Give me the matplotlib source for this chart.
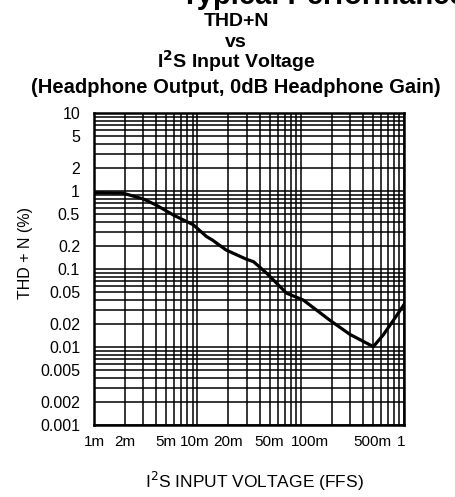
import matplotlib.pyplot as plt
import numpy as np
from matplotlib.ticker import FixedLocator, NullFormatter, LogLocator
from matplotlib.transforms import ScaledTranslation

plt.rcParams['font.family'] = ['Liberation Sans', 'DejaVu Sans']

# curve (input in FFS, THD+N in %)
input_ffs = [0.001, 0.0019, 0.003, 0.004, 0.0059, 0.0091, 0.0123, 0.014, 0.019,
             0.030, 0.035, 0.047, 0.073, 0.106, 0.192, 0.300, 0.505, 0.630, 0.790, 1.0]
thd_pct = [0.95, 0.94, 0.79, 0.66, 0.49, 0.37, 0.26, 0.235, 0.175,
           0.133, 0.124, 0.088, 0.049, 0.040, 0.022, 0.0145, 0.0101, 0.0143, 0.022, 0.035]

x_ticks = [0.001, 0.002, 0.005, 0.01, 0.02, 0.05, 0.1, 0.5, 1]
x_labels = ['1m', '2m', '5m', '10m', '20m', '50m', '100m', '500m', '1']
y_ticks = [10, 5, 2, 1, 0.5, 0.2, 0.1, 0.05, 0.02, 0.01, 0.005, 0.002, 0.001]
y_labels = ['10', '5', '2', '1', '0.5', '0.2', '0.1', '0.05', '0.02', '0.01', '0.005', '0.002', '0.001']

W, H = 456, 497
fig = plt.figure(figsize=(W / 100, H / 100), dpi=100)
ax = fig.add_axes([94 / W, 1 - 425 / H, 310 / W, 312 / H])

ax.set_xscale('log')
ax.set_yscale('log')
ax.set_xlim(0.001, 1)
ax.set_ylim(0.001, 10)

ax.xaxis.set_major_locator(FixedLocator(x_ticks))
ax.set_xticklabels(x_labels)
ax.yaxis.set_major_locator(FixedLocator(y_ticks))
ax.set_yticklabels(y_labels)
ax.xaxis.set_minor_locator(LogLocator(base=10, subs=np.arange(1, 10)))
ax.yaxis.set_minor_locator(LogLocator(base=10, subs=np.arange(1, 10)))
ax.xaxis.set_minor_formatter(NullFormatter())
ax.yaxis.set_minor_formatter(NullFormatter())

ax.grid(which='both', color='black', linewidth=1.1)
ax.tick_params(which='both', length=0)
ax.tick_params(axis='y', pad=10, labelsize=11.5)
ax.tick_params(axis='x', pad=7, labelsize=11)
for s in ax.spines.values():
    s.set_linewidth(1.8)

# nudge a couple of x labels the way the reference has them
nudge = {'100m': 9, '1': -3, '10m': -3}
for lab in ax.get_xticklabels():
    dx = nudge.get(lab.get_text(), 0)
    if dx:
        lab.set_transform(lab.get_transform() + ScaledTranslation(dx / 100, 0, fig.dpi_scale_trans))

ax.plot(input_ffs, thd_pct, color='black', linewidth=2.3)

# axis titles placed like the reference (slightly off-centre)
fig.text(26 / W, 1 - 253 / H, 'THD + N (%)', fontsize=11.5, rotation=90,
         ha='center', va='center')
fig.text(254 / W, 1 - 488 / H, 'I$^2$S INPUT VOLTAGE (FFS)', fontsize=12.5,
         ha='center', va='baseline')

fig.text(181 / W, 1 - 4 / H, 'Typical Performance Characteristics', fontsize=21,
         weight='bold', ha='left', va='baseline')
cx = 236 / W
fig.text(cx, 1 - 26 / H, 'THD+N', fontsize=14, weight='bold', ha='center', va='baseline')
fig.text(cx, 1 - 47 / H, 'vs', fontsize=14, weight='bold', ha='center', va='baseline')
fig.text(cx, 1 - 68 / H, 'I$^\\mathbf{2}$S Input Voltage', fontsize=14, weight='bold',
         ha='center', va='baseline')
fig.text(cx, 1 - 93 / H, '(Headphone Output, 0dB Headphone Gain)', fontsize=14.5,
         weight='bold', ha='center', va='baseline')

fig.savefig('out.png', dpi=100)
